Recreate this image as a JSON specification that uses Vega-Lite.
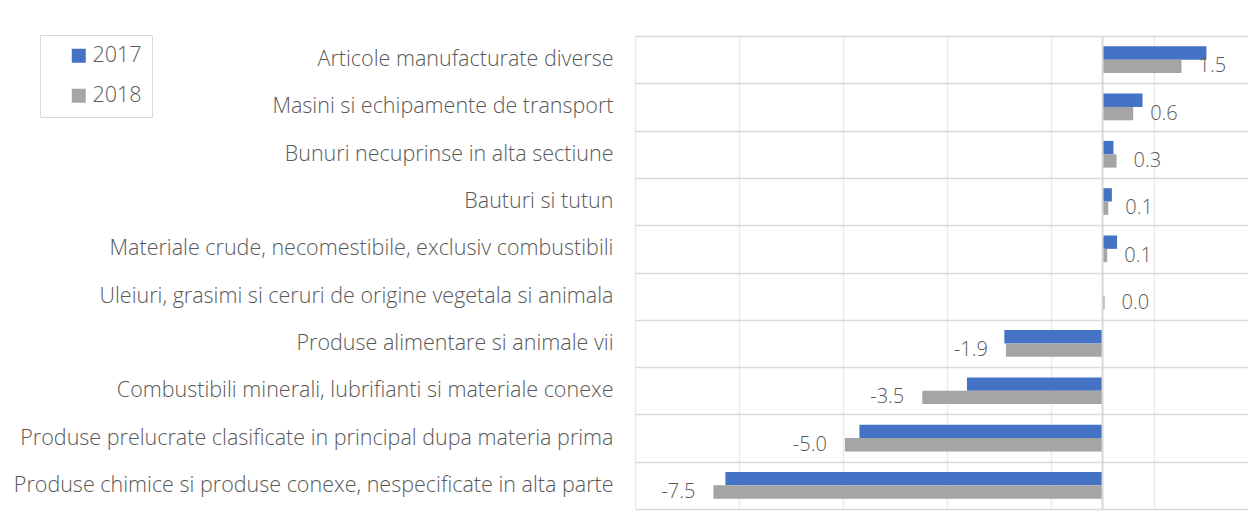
{
  "$schema": "https://vega.github.io/schema/vega-lite/v6.json",
  "width": 613,
  "height": 473,
  "autosize": {"type": "none"},
  "padding": {"left": 635, "top": 36, "right": 0, "bottom": 18},
  "background": "white",
  "config": {
    "view": {"stroke": null},
    "font": "Open Sans",
    "locale": {"number": {"decimal": ".", "thousands": ",", "grouping": [3], "currency": ["$", ""], "minus": "-"}}
  },
  "data": {"values": [
    {"cat": "Articole manufacturate diverse", "year": "2017", "value": 2.0},
    {"cat": "Articole manufacturate diverse", "year": "2018", "value": 1.52},
    {"cat": "Masini si echipamente de transport", "year": "2017", "value": 0.77},
    {"cat": "Masini si echipamente de transport", "year": "2018", "value": 0.59},
    {"cat": "Bunuri necuprinse in alta sectiune", "year": "2017", "value": 0.21},
    {"cat": "Bunuri necuprinse in alta sectiune", "year": "2018", "value": 0.27},
    {"cat": "Bauturi si tutun", "year": "2017", "value": 0.18},
    {"cat": "Bauturi si tutun", "year": "2018", "value": 0.11},
    {"cat": "Materiale crude, necomestibile, exclusiv combustibili", "year": "2017", "value": 0.28},
    {"cat": "Materiale crude, necomestibile, exclusiv combustibili", "year": "2018", "value": 0.09},
    {"cat": "Uleiuri, grasimi si ceruri de origine vegetala si animala", "year": "2017", "value": 0.01},
    {"cat": "Uleiuri, grasimi si ceruri de origine vegetala si animala", "year": "2018", "value": 0.04},
    {"cat": "Produse alimentare si animale vii", "year": "2017", "value": -1.89},
    {"cat": "Produse alimentare si animale vii", "year": "2018", "value": -1.86},
    {"cat": "Combustibili minerali, lubrifianti si materiale conexe", "year": "2017", "value": -2.61},
    {"cat": "Combustibili minerali, lubrifianti si materiale conexe", "year": "2018", "value": -3.47},
    {"cat": "Produse prelucrate clasificate in principal dupa materia prima", "year": "2017", "value": -4.68},
    {"cat": "Produse prelucrate clasificate in principal dupa materia prima", "year": "2018", "value": -4.96},
    {"cat": "Produse chimice si produse conexe, nespecificate in alta parte", "year": "2017", "value": -7.26},
    {"cat": "Produse chimice si produse conexe, nespecificate in alta parte", "year": "2018", "value": -7.49}
  ]},
  "layer": [
    {
      "mark": {"type": "bar"},
      "encoding": {
        "y": {"field": "cat", "type": "nominal", "sort": null,
          "scale": {"paddingInner": 0, "paddingOuter": 0},
          "axis": {"title": null, "domain": false, "ticks": false, "grid": true, "tickBand": "extent",
            "gridColor": "#d9d9d9", "gridWidth": 1.5, "labelFontSize": 21.5, "labelColor": "#595959",
            "labelPadding": 22, "labelLimit": 800, "labelFont": "Open Sans", "labelFontWeight": 300}},
        "yOffset": {"field": "year", "type": "nominal", "sort": ["2017", "2018"], "scale": {"paddingInner": 0, "paddingOuter": 0.77}},
        "x": {"field": "value", "type": "quantitative",
          "scale": {"domain": [-9, 2.8], "nice": false, "zero": false},
          "axis": {"title": null, "labels": false, "ticks": false, "domain": false, "grid": true,
            "values": [-9, -7, -5, -3, -1, 1], "gridColor": "#ebebeb", "gridWidth": 1.5}},
        "color": {"field": "year", "type": "nominal",
          "scale": {"domain": ["2017", "2018"], "range": ["#4472C4", "#A5A5A5"]},
          "legend": {"title": null, "orient": "none", "legendX": -595, "legendY": -1,
            "strokeColor": "#d9d9d9", "fillColor": "white", "padding": 10,
            "symbolType": "square", "symbolSize": 196, "symbolStrokeWidth": 0,
            "symbolOffset": 18, "labelOffset": 3, "labelFontSize": 21.5, "labelColor": "#595959",
            "labelFont": "Open Sans", "labelFontWeight": 300, "rowPadding": 17}}
      }
    },
    {
      "data": {"values": [{"ref": "zero"}]},
      "mark": {"type": "rule", "color": "#d9d9d9", "strokeWidth": 2},
      "encoding": {"x": {"datum": 0}}
    },
    {
      "transform": [{"filter": "datum.year == '2018' && datum.value >= 0"}],
      "mark": {"type": "text", "align": "left", "dx": 17, "fontSize": 20, "color": "#595959", "font": "Open Sans", "fontWeight": 300},
      "encoding": {
        "y": {"field": "cat", "type": "nominal", "sort": null},
        "yOffset": {"field": "year", "type": "nominal"},
        "x": {"field": "value", "type": "quantitative"},
        "text": {"field": "value", "type": "quantitative", "format": ".1f"}
      }
    },
    {
      "transform": [{"filter": "datum.year == '2018' && datum.value < 0"}],
      "mark": {"type": "text", "align": "right", "dx": -18, "fontSize": 20, "color": "#595959", "font": "Open Sans", "fontWeight": 300},
      "encoding": {
        "y": {"field": "cat", "type": "nominal", "sort": null},
        "yOffset": {"field": "year", "type": "nominal"},
        "x": {"field": "value", "type": "quantitative"},
        "text": {"field": "value", "type": "quantitative", "format": ".1f"}
      }
    }
  ]
}
